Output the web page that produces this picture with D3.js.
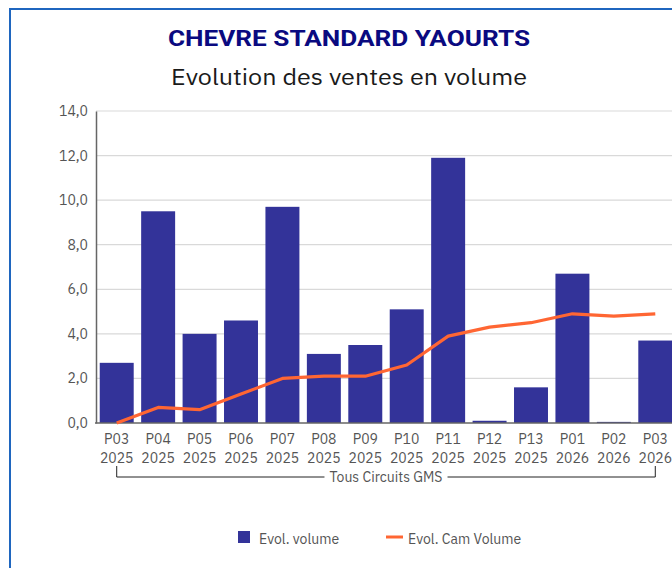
<!DOCTYPE html>
<html><head><meta charset="utf-8">
<script src="https://cdn.jsdelivr.net/npm/d3@7"></script>
<style>body{margin:0;background:#fff;overflow:hidden}svg{display:block}</style>
</head><body>
<svg id="c" width="672" height="568"></svg>
<script>
const periods = ["P03","P04","P05","P06","P07","P08","P09","P10","P11","P12","P13","P01","P02","P03"];
const years   = ["2025","2025","2025","2025","2025","2025","2025","2025","2025","2025","2025","2026","2026","2026"];
const evolVolume    = [2.7, 9.5, 4.0, 4.6, 9.7, 3.1, 3.5, 5.1, 11.9, 0.1, 1.6, 6.7, 0.05, 3.7];
const evolCamVolume = [0.0, 0.7, 0.6, 1.3, 2.0, 2.1, 2.1, 2.6, 3.9, 4.3, 4.5, 4.9, 4.8, 4.9];
const yTicks = [0, 2, 4, 6, 8, 10, 12, 14];
const groupLabel = "Tous Circuits GMS";
const title = "CHEVRE STANDARD YAOURTS";
const subtitle = "Evolution des ventes en volume";
const legendLabels = ["Evol. volume", "Evol. Cam Volume"];

const svg = d3.select("#c");
const font = "'IBM Plex Sans', Roboto, 'Noto Sans', sans-serif";
const fs = 14;

// border
svg.append("path").attr("d","M10,568 V9 H672").attr("fill","none").attr("stroke","#1f66bf").attr("stroke-width",2);

svg.append("text").attr("x",349).attr("y",46).attr("text-anchor","middle")
  .attr("font-family","Roboto, sans-serif").attr("font-weight","bold").attr("font-size",22)
  .attr("fill","#0a0a80").attr("textLength",362).attr("lengthAdjust","spacingAndGlyphs").text(title);
svg.append("text").attr("x",349).attr("y",85).attr("text-anchor","middle")
  .attr("font-family",font).attr("font-size",22).attr("fill","#1a1a1a")
  .attr("textLength",356).attr("lengthAdjust","spacingAndGlyphs").text(subtitle);

const x = d3.scaleBand().domain(d3.range(periods.length)).range([96, 676]).paddingInner(0.18).paddingOuter(0.09);
const y = d3.scaleLinear().domain([0,14]).range([423, 111]);

// grid
svg.append("g").selectAll("line").data(yTicks.slice(1)).join("line")
  .attr("x1",96).attr("x2",672).attr("y1",d=>y(d)).attr("y2",d=>y(d))
  .attr("stroke","#d9d9d9").attr("stroke-width",1.2);

// y axis
const ya = svg.append("g").attr("transform","translate(96,0)")
  .call(d3.axisLeft(y).tickValues(yTicks).tickSize(0).tickPadding(8).tickFormat(d=>d3.format(".1f")(d).replace(".",",")));
ya.select(".domain").attr("stroke","#666").attr("stroke-width",1.5);
ya.selectAll("text").attr("font-family",font).attr("font-size",fs).attr("fill","#555");

// bars
svg.append("g").selectAll("rect").data(evolVolume).join("rect")
  .attr("x",(d,i)=>x(i)).attr("width",x.bandwidth())
  .attr("y",d=>y(d)).attr("height",d=>y(0)-y(d)).attr("fill","#333399");

// x axis baseline
svg.append("line").attr("x1",95).attr("x2",672).attr("y1",y(0)).attr("y2",y(0)).attr("stroke","#666").attr("stroke-width",1.5);

// line
const line = d3.line().x((d,i)=>x(i)+x.bandwidth()/2).y(d=>y(d));
svg.append("path").datum(evolCamVolume).attr("d",line).attr("fill","none")
  .attr("stroke","#ff6633").attr("stroke-width",3.2).attr("stroke-linejoin","round");

// x labels
const xl = svg.append("g").selectAll("g").data(periods).join("g")
  .attr("transform",(d,i)=>`translate(${x(i)+x.bandwidth()/2},0)`);
xl.append("text").attr("y",444).attr("text-anchor","middle").attr("font-family",font).attr("font-size",fs).attr("fill","#555").text(d=>d);
xl.append("text").attr("y",463).attr("text-anchor","middle").attr("font-family",font).attr("font-size",fs).attr("fill","#555").text((d,i)=>years[i]);

// group bracket
const gx0 = x(0)+x.bandwidth()/2, gx1 = x(periods.length-1)+x.bandwidth()/2;
const gt = svg.append("text").attr("x",(gx0+gx1)/2).attr("y",482).attr("text-anchor","middle")
  .attr("font-family",font).attr("font-size",fs).attr("fill","#555").text(groupLabel);
const tw = gt.node().getComputedTextLength();
const mid = (gx0+gx1)/2;
svg.append("path").attr("d",`M${gx0},466 V477 H${mid-tw/2-5} M${mid+tw/2+5},477 H${gx1} V466`)
  .attr("fill","none").attr("stroke","#222").attr("stroke-width",1);

// legend
svg.append("rect").attr("x",238).attr("y",531).attr("width",12).attr("height",12).attr("fill","#333399");
svg.append("text").attr("x",259).attr("y",544).attr("font-family",font).attr("font-size",fs).attr("fill","#555").text(legendLabels[0]);
svg.append("line").attr("x1",386).attr("x2",403).attr("y1",537).attr("y2",537).attr("stroke","#ff6633").attr("stroke-width",3);
svg.append("text").attr("x",408).attr("y",544).attr("font-family",font).attr("font-size",fs).attr("fill","#555").text(legendLabels[1]);
</script>
</body></html>
